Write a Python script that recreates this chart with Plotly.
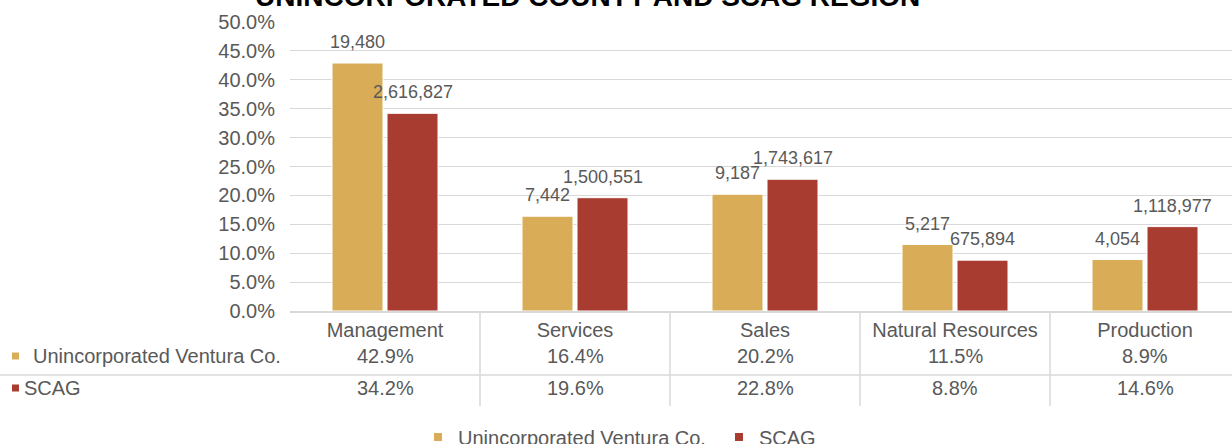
import plotly.graph_objects as go

# ---------------- data ----------------
categories = ["Management", "Services", "Sales", "Natural Resources", "Production"]
series_names = ["Unincorporated Ventura Co.", "SCAG"]
unincorporated_pct = [42.9, 16.4, 20.2, 11.5, 8.9]
scag_pct = [34.2, 19.6, 22.8, 8.8, 14.6]
unincorporated_count = [19480, 7442, 9187, 5217, 4054]
scag_count = [2616827, 1500551, 1743617, 675894, 1118977]
title_text = "UNINCORPORATED COUNTY AND SCAG REGION"

# ---------------- style ----------------
GOLD = "#D9AD57"
RED = "#A93C31"
TXT = "#595959"
GRID = "#D9D9D9"
FONT = "Liberation Sans"

# plot area geometry (px)
L, R, T, B = 290, 0, 22, 133
W, H = 1232, 444
PH = H - T - B


def py(p):
    """pixel row -> paper y"""
    return (H - B - p) / PH


def px(p):
    """pixel column -> paper x"""
    return (p - L) / (W - L - R)


fig = go.Figure()
pct_series = [unincorporated_pct, scag_pct]
count_series = [unincorporated_count, scag_count]
colors = [GOLD, RED]

for name, vals, col in zip(series_names, pct_series, colors):
    fig.add_trace(go.Bar(
        x=categories, y=vals, name=name, marker=dict(color=col, line=dict(color="white", width=1)),
        showlegend=False, hoverinfo="skip"))

# legend entries (small square keys)
for name, col in zip(series_names, colors):
    fig.add_trace(go.Scatter(
        x=[None], y=[None], mode="markers", name=name,
        marker=dict(symbol="square", size=8, color=col)))

annotations = []
# data labels above bars
shifts = [-27.5, 27.5]
for vals, counts, xs in zip(pct_series, count_series, shifts):
    for cat, v, c in zip(categories, vals, counts):
        annotations.append(dict(
            x=cat, y=v, xref="x", yref="y", text=f"{c:,}", showarrow=False,
            xshift=xs, yshift=9, yanchor="bottom", xanchor="center",
            font=dict(family=FONT, size=18, color=TXT)))

# data table rows
row_y = [py(356), py(388)]
for vals, yy in zip(pct_series, row_y):
    for cat, v in zip(categories, vals):
        annotations.append(dict(
            x=cat, y=yy, xref="x", yref="paper", text=f"{v:.1f}%", showarrow=False,
            yanchor="middle", xanchor="center",
            font=dict(family=FONT, size=20, color=TXT)))

# row headers
annotations.append(dict(x=px(31), y=row_y[0], xref="paper", yref="paper",
                        text=series_names[0], showarrow=False, xanchor="left", yanchor="middle",
                        font=dict(family=FONT, size=20, color=TXT)))
annotations.append(dict(x=px(22), y=row_y[1], xref="paper", yref="paper",
                        text=series_names[1], showarrow=False, xanchor="left", yanchor="middle",
                        font=dict(family=FONT, size=20, color=TXT)))

# title (cropped at top)
annotations.append(dict(x=px(587), y=py(14), xref="paper", yref="paper",
                        text=f"<b>{title_text}</b>", showarrow=False, xanchor="center", yanchor="bottom",
                        font=dict(family=FONT, size=28, color="#000000")))

shapes = []
# row key squares
for col, cy in zip(colors, [356, 388]):
    shapes.append(dict(type="rect", xref="paper", yref="paper",
                       x0=px(12), x1=px(19), y0=py(cy - 3.5), y1=py(cy + 3.5),
                       fillcolor=col, line=dict(width=0)))
# horizontal divider between rows
shapes.append(dict(type="line", xref="paper", yref="paper", x0=px(0), x1=1,
                   y0=py(375), y1=py(375), line=dict(color=GRID, width=1.5)))
# vertical dividers between categories
for i in range(len(categories) - 1):
    shapes.append(dict(type="line", xref="x", yref="paper", x0=i + 0.5, x1=i + 0.5,
                       y0=0, y1=py(406), line=dict(color=GRID, width=1.5)))

fig.update_layout(
    width=W, height=H,
    margin=dict(l=L, r=R, t=T, b=B),
    paper_bgcolor="white", plot_bgcolor="white",
    barmode="group", bargap=0.421, bargroupgap=0.073,
    font=dict(family=FONT, size=20, color=TXT),
    annotations=annotations, shapes=shapes,
    showlegend=True,
    legend=dict(orientation="h", xref="container", yref="container",
                x=418 / W, y=(H - 437) / H, xanchor="left", yanchor="middle",
                font=dict(family=FONT, size=20, color=TXT), itemwidth=30,
                entrywidth=256, entrywidthmode="pixels",
                bgcolor="rgba(0,0,0,0)"),
    xaxis=dict(type="category", range=[-0.5, -0.5 + (W - L - R) / 190.0],
               showline=True, linecolor=GRID, linewidth=1.5, showgrid=False,
               ticks="", tickfont=dict(family=FONT, size=20, color=TXT), fixedrange=True),
    yaxis=dict(range=[0, 50], dtick=5, tick0=0, ticksuffix="%", tickformat=".1f",
               showgrid=True, gridcolor=GRID, gridwidth=1.3, zeroline=False,
               showline=False, ticks="", ticklabelstandoff=14,
               tickfont=dict(family=FONT, size=20, color=TXT), fixedrange=True),
)

fig.write_html("out.html", config={"displayModeBar": False},
               post_script="document.body.style.margin='0';document.body.style.padding='0';")
